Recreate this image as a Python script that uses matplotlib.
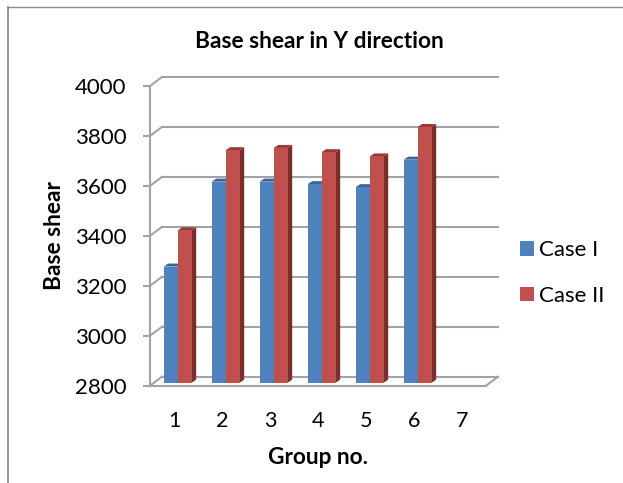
import matplotlib
matplotlib.use("Agg")
import matplotlib.pyplot as plt
from matplotlib.lines import Line2D
from matplotlib.patches import Patch, Polygon
from matplotlib.transforms import IdentityTransform

# --- Data ---
groups = [1, 2, 3, 4, 5, 6, 7]
case_1 = [3265, 3605, 3605, 3595, 3583, 3693]
case_2 = [3410, 3731, 3740, 3723, 3706, 3824]
y_ticks = [2800, 3000, 3200, 3400, 3600, 3800, 4000]

plt.rcParams['font.family'] = ['Lato', 'DejaVu Sans']

W, H = 623, 483
GRID = "#A3A3A3"
BLUE = ("#4F81BD", "#2F5583", "#3A659B")
RED = ("#C0504D", "#7A2F2D", "#99393A")

fig = plt.figure(figsize=(W / 100, H / 100), dpi=100, facecolor="white")
ax = fig.add_axes([150 / W, (H - 385.7) / H, 336 / W, 299.7 / H])
ax.set_xlim(0.5, 7.5)
ax.set_ylim(2800, 4000)
ax.patch.set_visible(False)


def proj(x, y, dx=0.0, dy=0.0):
    # data coords to pixels, with a pixel offset for the fake 3D depth
    px, py = ax.transData.transform((x, y))
    return (px + dx, py + dy)


def poly(points, color, z):
    ax.add_patch(Polygon(points, closed=True, facecolor=color, edgecolor="none",
                         transform=IdentityTransform(), zorder=z, clip_on=False))


def seg(p, q, z=1):
    ax.add_line(Line2D([p[0], q[0]], [p[1], q[1]], color=GRID, lw=1.5,
                       transform=IdentityTransform(), zorder=z, clip_on=False))


# --- Back wall gridlines and depth connectors ---
for t in y_ticks:
    seg(proj(0.5, t), proj(0.5, t, 12, 9))
    seg(proj(0.5, t, 12, 9), proj(7.5, t, 12, 9))
seg(proj(7.5, 2800), proj(7.5, 2800, 12, 9))


# --- Bars with side and top faces ---
def draw_bar(x, val, width, colors, z):
    front, side, top = colors
    l, r = x, x + width
    poly([proj(l, 2800, 3.7, 3), proj(r, 2800, 3.7, 3),
          proj(r, val, 3.7, 3), proj(l, val, 3.7, 3)], front, z + 0.2)
    poly([proj(r, 2800, 3.7, 3), proj(r, 2800, 8.2, 6),
          proj(r, val, 8.2, 6), proj(r, val, 3.7, 3)], side, z)
    poly([proj(l, val, 3.7, 3), proj(r, val, 3.7, 3),
          proj(r, val, 8.2, 6), proj(l, val, 8.2, 6)], top, z + 0.1)


bar_w = 14 / 48
for i in range(len(case_1)):
    draw_bar(groups[i] - bar_w, case_1[i], bar_w, BLUE, 3)
    draw_bar(groups[i], case_2[i], bar_w, RED, 4)

# --- Axes ---
for name in ["top", "right"]:
    ax.spines[name].set_visible(False)
for name in ["left", "bottom"]:
    ax.spines[name].set_color(GRID)
    ax.spines[name].set_linewidth(1.5)
    ax.spines[name].set_zorder(5)
ax.set_yticks(y_ticks)
ax.set_xticks(groups)
ax.tick_params(axis="y", length=5, width=1.5, color=GRID, labelsize=16, pad=12, labelcolor="black")
ax.tick_params(axis="x", length=0, labelsize=15.5, pad=18, labelcolor="black")

ax.set_xlabel("Group no.", fontsize=16.3, fontweight="bold", labelpad=12)
ax.set_ylabel("Base shear", fontsize=16.3, fontweight="bold", labelpad=7)
fig.text(319 / W, 1 - 42 / H, "Base shear in Y direction", fontsize=16.3, fontweight="bold",
         ha="center", va="center")

# --- Legend ---
handles = [Patch(facecolor=BLUE[0], label="Case I"), Patch(facecolor=RED[0], label="Case II")]
fig.legend(handles=handles, loc="center left", bbox_to_anchor=(520 / W, 1 - 273 / H), frameon=False,
           fontsize=16, handlelength=0.65, handleheight=0.65, handletextpad=0.2,
           labelspacing=1.15, borderpad=0, borderaxespad=0)

# --- Outer frame, top and left edges only ---
fig.add_artist(Line2D([8 / W, 8 / W], [0, 1 - 7 / H], color="#8C8C8C", lw=1.3))
fig.add_artist(Line2D([8 / W, 1], [1 - 7 / H, 1 - 7 / H], color="#8C8C8C", lw=1.0))

fig.savefig("out.png", dpi=100)
